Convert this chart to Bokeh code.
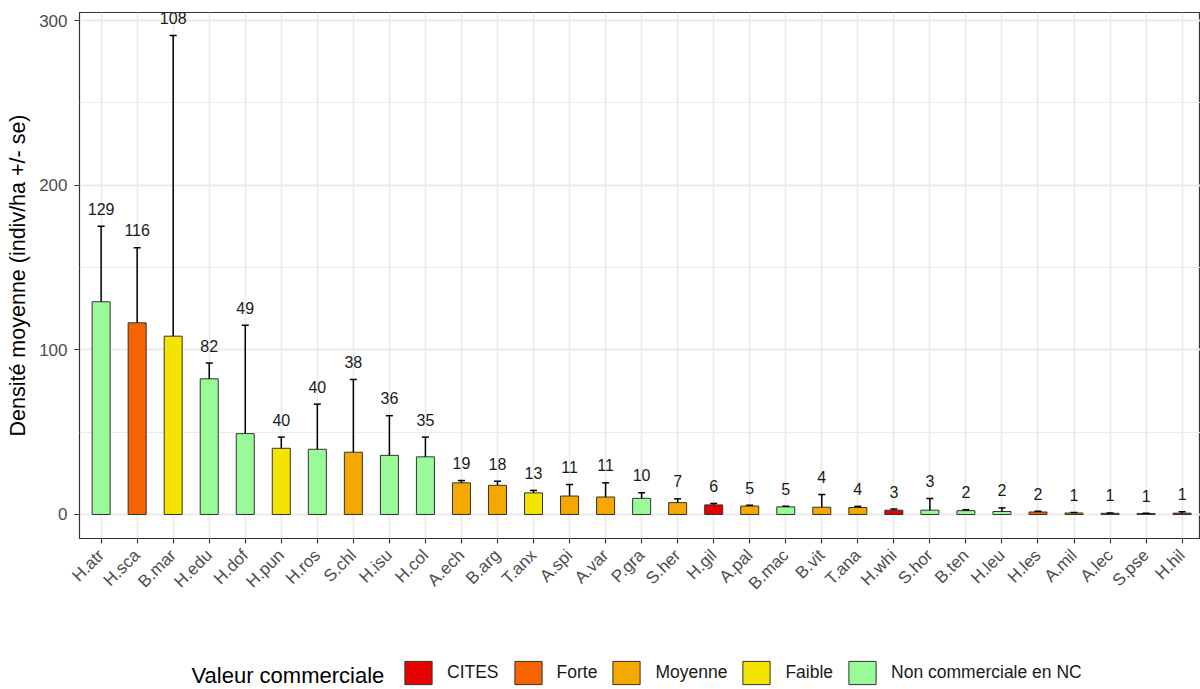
import math
from bokeh.plotting import figure
from bokeh.layouts import column
from bokeh.models import (Range1d, FixedTicker, Whisker, TeeHead, ColumnDataSource,
                          Legend, LegendItem, Label)
from bokeh.core.properties import value
from bokeh.embed import file_html
from bokeh.resources import INLINE

# ---------------- data ----------------
categories = ["H.atr", "H.sca", "B.mar", "H.edu", "H.dof", "H.pun", "H.ros", "S.chl",
              "H.isu", "H.col", "A.ech", "B.arg", "T.anx", "A.spi", "A.var", "P.gra",
              "S.her", "H.gil", "A.pal", "B.mac", "B.vit", "T.ana", "H.whi", "S.hor",
              "B.ten", "H.leu", "H.les", "A.mil", "A.lec", "S.pse", "H.hil"]
means = [129.2, 116.4, 108.3, 82.4, 49.1, 40.2, 39.6, 37.8, 35.9, 35.0, 19.2, 17.7,
         13.1, 11.2, 10.6, 9.8, 7.2, 5.8, 5.1, 4.6, 4.4, 4.2, 2.6, 2.6, 2.3, 1.8, 1.5,
         0.9, 0.7, 0.6, 0.8]
se = [45.8, 45.6, 182.7, 9.6, 65.9, 6.8, 27.4, 44.2, 24.1, 12.0, 1.4, 2.5, 1.5, 7.0,
      8.6, 3.4, 2.3, 0.9, 0.5, 0.4, 7.7, 0.7, 0.7, 7.1, 0.6, 2.2, 0.5, 0.3, 0.2, 0.1, 0.8]
groups = ["Non commerciale en NC", "Forte", "Faible", "Non commerciale en NC",
          "Non commerciale en NC", "Faible", "Non commerciale en NC", "Moyenne",
          "Non commerciale en NC", "Non commerciale en NC", "Moyenne", "Moyenne",
          "Faible", "Moyenne", "Moyenne", "Non commerciale en NC", "Moyenne", "CITES",
          "Moyenne", "Non commerciale en NC", "Moyenne", "Moyenne", "CITES",
          "Non commerciale en NC", "Non commerciale en NC", "Non commerciale en NC",
          "Forte", "Moyenne", "Moyenne", "Non commerciale en NC", "CITES"]
group_order = ["CITES", "Forte", "Moyenne", "Faible", "Non commerciale en NC"]
group_colors = ["#E60000", "#F76300", "#F5A800", "#F5E300", "#98FB98"]
legend_title = "Valeur commerciale"
y_title = "Densité moyenne (indiv/ha +/- se)"
y_ticks = [0, 100, 200, 300]
y_minor_ticks = [50, 150, 250]

FONT = "Liberation Sans"

xs = list(range(1, len(categories) + 1))
upper = [m + s for m, s in zip(means, se)]
labels = [f"{m:.0f}" for m in means]

p = figure(width=1200, height=648,
           x_range=Range1d(0.4, 31.51), y_range=Range1d(-14.6, 304.9),
           output_backend="svg", toolbar_location=None,
           min_border_left=79, min_border_right=0, min_border_top=12,
           min_border_bottom=110)
p.background_fill_color = "white"
p.border_fill_color = "white"
p.outline_line_color = "#333333"
p.outline_line_width = 1.2

# bars, one renderer per commercial class
for g, c in zip(group_order, group_colors):
    gx = [x for x, gg in zip(xs, groups) if gg == g]
    gt = [m for m, gg in zip(means, groups) if gg == g]
    src = ColumnDataSource(dict(x=gx, top=gt))
    p.vbar(x="x", top="top", bottom=0, width=0.5, source=src,
           fill_color=c, line_color="#333333", line_width=1)

# error bars (upper only)
esrc = ColumnDataSource(dict(x=xs, lower=means, upper=upper, label=labels))
wh = Whisker(source=esrc, base="x", lower="lower", upper="upper", dimension="height",
             line_color="black", line_width=1.5, lower_head=None,
             upper_head=TeeHead(size=7, line_color="black", line_width=1.5))
wh.level = "annotation"
p.add_layout(wh)

# value labels
p.text(x="x", y="upper", text="label", source=esrc, text_align="center",
       text_baseline="middle", y_offset=-17.5, text_font=value(FONT),
       text_font_size="16px", text_color="#1A1A1A")

# axes
p.xaxis.ticker = FixedTicker(ticks=xs)
p.xaxis.major_label_overrides = {x: c for x, c in zip(xs, categories)}
p.xaxis.major_label_orientation = math.pi / 4
p.yaxis.ticker = FixedTicker(ticks=y_ticks, minor_ticks=y_minor_ticks)
for ax in (p.xaxis, p.yaxis):
    ax.axis_line_color = None
    ax.major_tick_line_color = "#333333"
    ax.major_tick_line_width = 1.1
    ax.major_tick_out = 5
    ax.major_tick_in = 0
    ax.minor_tick_line_color = None
    ax.major_label_text_font = FONT
    ax.major_label_text_font_size = "17px"
    ax.major_label_text_color = "#4D4D4D"
p.xaxis.major_label_standoff = 9
p.yaxis.major_label_standoff = 7
p.yaxis.axis_label = y_title
p.yaxis.axis_label_text_font = FONT
p.yaxis.axis_label_text_font_size = "21.5px"
p.yaxis.axis_label_text_font_style = "normal"
p.yaxis.axis_label_text_color = "black"
p.yaxis.axis_label_standoff = 6

# grid
p.xgrid.grid_line_color = "#EBEBEB"
p.xgrid.grid_line_width = 1.8
p.ygrid.grid_line_color = "#EBEBEB"
p.ygrid.grid_line_width = 1.8
p.ygrid.minor_grid_line_color = "#EBEBEB"
p.ygrid.minor_grid_line_width = 1

# legend strip below the plot (its frame is aligned with the main frame's left edge)
lg = figure(width=1200, height=41, x_range=Range1d(0, 1), y_range=Range1d(0, 1),
            output_backend="svg", toolbar_location=None,
            x_axis_type=None, y_axis_type=None, min_border=0)
lg.outline_line_color = None
lg.background_fill_color = "white"
lg.border_fill_color = "white"
items = []
for g, c in zip(group_order, group_colors):
    # key swatch renderer: a single zero-height bar kept outside the visible strip
    r = lg.vbar(x=[-5], top=[0], width=0.5, fill_color=c, line_color="#333333",
                line_width=1)
    items.append(LegendItem(label=g, renderers=[r]))
legend = Legend(items=items, orientation="horizontal", location=(322, 2),
                glyph_width=34, glyph_height=29, label_standoff=12, spacing=12,
                padding=0, margin=0, border_line_alpha=0, background_fill_alpha=0,
                label_text_font=FONT, label_text_font_size="17.5px",
                label_text_color="#1A1A1A")
lg.add_layout(legend)
lg.add_layout(Label(x=112, y=14, x_units="screen", y_units="screen",
                    text=legend_title, text_font=FONT, text_font_size="22px",
                    text_baseline="middle", text_color="black"))

open("out.html", "w").write(file_html(column(p, lg, spacing=0), INLINE))
